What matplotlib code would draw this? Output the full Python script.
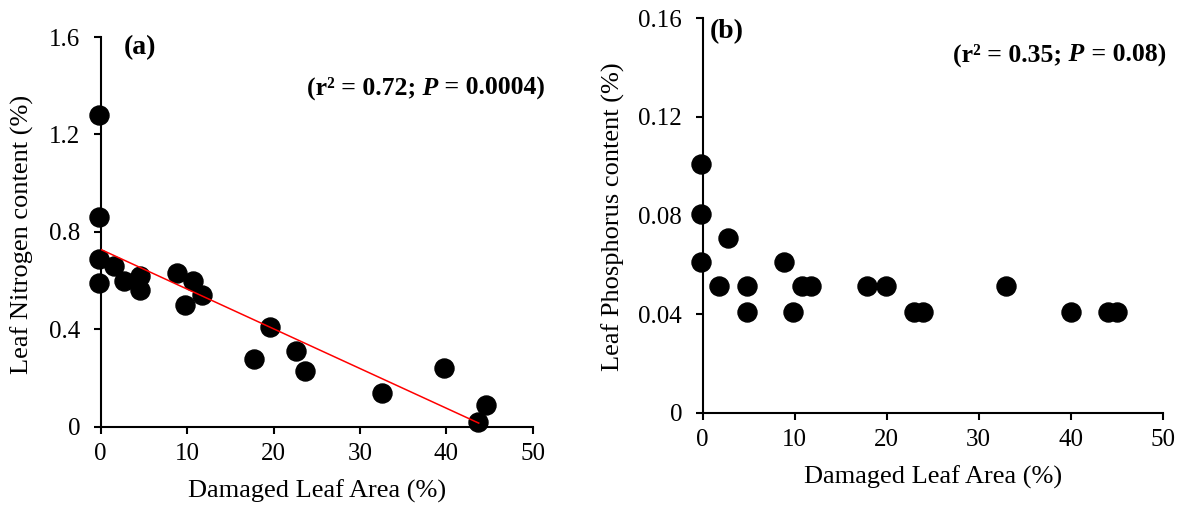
import matplotlib
matplotlib.use("Agg")
import matplotlib.pyplot as plt

plt.rcParams['font.family'] = ['Liberation Serif', 'DejaVu Serif']

# panel (a): leaf nitrogen vs damaged leaf area
dmg_a = [-0.2, -0.2, -0.2, -0.2, 1.5, 2.7, 4.6, 4.6, 8.8, 9.7,
         10.7, 11.7, 17.7, 19.6, 22.6, 23.6, 32.6, 39.7, 43.7, 44.6]
nitrogen = [1.28, 0.86, 0.69, 0.59, 0.66, 0.60, 0.62, 0.56, 0.63, 0.50,
            0.60, 0.54, 0.28, 0.41, 0.31, 0.23, 0.14, 0.24, 0.02, 0.09]
trend_x = [0, 43.75]
trend_int = 0.728
trend_slope = -0.0163
stats_a = ('0.72', '0.0004')

# panel (b): leaf phosphorus vs damaged leaf area
dmg_b = [-0.2, -0.2, -0.2, 1.8, 2.8, 4.8, 4.8, 8.8, 9.8, 10.8,
         11.8, 17.9, 19.9, 23.0, 23.9, 33.0, 40.0, 44.0, 45.0]
phosphorus = [0.101, 0.0805, 0.061, 0.0514, 0.071, 0.0514, 0.0407, 0.061, 0.0407, 0.0514,
              0.0514, 0.0514, 0.0514, 0.0407, 0.0407, 0.0514, 0.0407, 0.0407, 0.0407]
stats_b = ('0.35', '0.08')

W, H = 1185, 511
fig = plt.figure(figsize=(W / 100, H / 100), dpi=100)

def box(l, r, t, b):
    return [l / W, 1 - b / H, (r - l) / W, (b - t) / H]

ax1 = fig.add_axes(box(100.7, 532.7, 37, 426.7))
ax2 = fig.add_axes(box(702.7, 1162.7, 18.3, 412.7))

tick_fs = 18
lab_fs = 19
ann_fs = 18.5


def stats_text(ax, x, y, r2, p):
    # right-aligned, built from the right so the italic P can sit in the middle
    t3 = ax.text(x, y, ' = %s)' % p, transform=ax.transAxes, fontsize=ann_fs,
                 fontweight='bold', ha='right', va='center')
    t2 = ax.annotate(' P', xy=(0, 0.5), xycoords=t3, fontsize=ann_fs, fontweight='bold',
                     fontstyle='italic', ha='right', va='center')
    ax.annotate('(r\u00b2 = %s;' % r2, xy=(0, 0.5), xycoords=t2, fontsize=ann_fs,
                fontweight='bold', ha='right', va='center')


for ax in (ax1, ax2):
    for s in ('top', 'right'):
        ax.spines[s].set_visible(False)
    for s in ('left', 'bottom'):
        ax.spines[s].set_linewidth(1.5)
    ax.tick_params(direction='out', length=4.8, width=1.5, labelsize=tick_fs)
    ax.tick_params(axis='y', pad=10)
    ax.tick_params(axis='x', pad=7)
    ax.set_xlim(0, 50)
    ax.set_xticks([0, 10, 20, 30, 40, 50])
    ax.set_xlabel('Damaged Leaf Area (%)', fontsize=lab_fs)
    ax.xaxis.set_label_coords(0.5, -0.135)

ax1.scatter(dmg_a, nitrogen, s=13.7**2, color='black', zorder=3, clip_on=False)
ax1.plot(trend_x, [trend_int + trend_slope * x for x in trend_x], color='red', lw=1.1, zorder=4)
ax1.set_ylim(0, 1.6)
ax1.set_yticks([0, 0.4, 0.8, 1.2, 1.6])
ax1.set_yticklabels(['0', '0.4', '0.8', '1.2', '1.6'])
ax1.set_ylabel('Leaf Nitrogen content (%)', fontsize=lab_fs)
ax1.yaxis.set_label_coords(-0.182, 0.493)
ax1.yaxis.label.set_verticalalignment('center')
ax1.text(0.054, 0.972, '(a)', transform=ax1.transAxes, fontsize=20, fontweight='bold', va='center')
stats_text(ax1, 1.0285, 0.869, *stats_a)

ax2.scatter(dmg_b, phosphorus, s=13.7**2, color='black', zorder=3, clip_on=False)
ax2.set_ylim(0, 0.16)
ax2.set_yticks([0, 0.04, 0.08, 0.12, 0.16])
ax2.set_yticklabels(['0', '0.04', '0.08', '0.12', '0.16'])
ax2.set_ylabel('Leaf Phosphorus content (%)', fontsize=lab_fs)
ax2.yaxis.set_label_coords(-0.195, 0.497)
ax2.yaxis.label.set_verticalalignment('center')
ax2.text(0.016, 0.966, '(b)', transform=ax2.transAxes, fontsize=20, fontweight='bold', va='center')
stats_text(ax2, 1.007, 0.907, *stats_b)

fig.savefig('out.png', dpi=100)
